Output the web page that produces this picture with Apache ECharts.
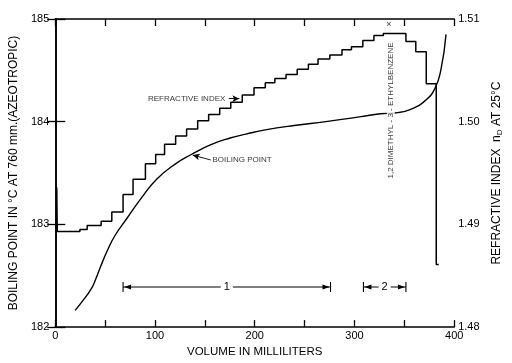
<!DOCTYPE html>
<html>
<head>
<meta charset="utf-8">
<script src="https://cdn.jsdelivr.net/npm/echarts@6/dist/echarts.min.js"></script>
<style>html,body{margin:0;padding:0;background:#fff}#c{width:512px;height:363px}</style>
</head>
<body>
<div id="c"></div>
<script>
// Boiling point curve (volume ml, °C)
var bpVol = [19.9, 26.3, 35.9, 40.7, 45.5, 51.9, 59.9, 71.6, 87.0, 101.9, 120.9, 136.8, 156.1, 175.3, 191.3, 210.6, 239.4, 271.4, 306.7, 326, 340.4, 358, 370.9, 380.5, 386.8, 391.8];
var bpVal = [182.163, 182.240, 182.370, 182.470, 182.590, 182.738, 182.892, 183.055, 183.266, 183.443, 183.592, 183.683, 183.777, 183.841, 183.879, 183.920, 183.963, 184.001, 184.049, 184.078, 184.085, 184.128, 184.205, 184.320, 184.512, 184.850];
// Refractive index of fractions (volume at start of fraction, nD 25°C)
var riVol = [1.5, 2.0, 24.7, 32, 46, 56.7, 68, 78, 90.4, 100.7, 109.6, 120.7, 131.7, 142.8, 153.8, 164.9, 176, 187.5, 199.3, 210.6, 220.2, 231.4, 242.6, 253.8, 263.5, 275.3, 287.5, 297, 308.4, 319.5, 329, 351.6, 361.5, 372, 382, 384.5];
var riVal = [1.4936, 1.4893, 1.4895, 1.4899, 1.4903, 1.4912, 1.4929, 1.4944, 1.4959, 1.4968, 1.4978, 1.4986, 1.4993, 1.5001, 1.5007, 1.5013, 1.5019, 1.5026, 1.5033, 1.5038, 1.5042, 1.5046, 1.5051, 1.5056, 1.5061, 1.5065, 1.5070, 1.5073, 1.5079, 1.5084, 1.5086, 1.5078, 1.5068, 1.5037, 1.4861, 1.4861];
// Fraction ranges
var rangeStart = [68, 309];
var rangeEnd = [276, 351.6];
var rangeLabel = ['1', '2'];
var rangeLevel = 182.39;
// x mark
var markVol = [334.6];
var markVal = [184.95];
// tick labels
var xTicks = [0, 100, 200, 300, 400];
var leftTicks = [182, 183, 184, 185];
var rightTicks = ['1.48', '1.49', '1.50', '1.51'];

var FONT = "'Liberation Sans', 'DejaVu Sans', sans-serif";
var chart = echarts.init(document.getElementById('c'), null, {renderer: 'canvas'});

var bpData = bpVol.map(function (v, i) { return [v, bpVal[i]]; });
var riData = riVol.map(function (v, i) { return [v, riVal[i]]; });
var rangeData = rangeStart.map(function (v, i) { return [v, rangeEnd[i], rangeLevel]; });

var axisLine = {show: true, lineStyle: {color: '#000', width: 1.6}};

chart.setOption({
  animation: false,
  backgroundColor: '#fff',
  grid: {left: 51, right: 45, top: 19, bottom: 31, containLabel: false},
  xAxis: [{
    type: 'value', min: 0, max: 400, interval: 50, position: 'bottom',
    axisLine: axisLine,
    axisTick: {show: true, inside: true, length: 7, lineStyle: {color: '#000', width: 1.3}},
    axisLabel: {color: '#000', fontFamily: FONT, fontSize: 11, margin: 3,
      formatter: function (v) { return xTicks.indexOf(v) >= 0 ? String(v) : ''; }},
    splitLine: {show: false},
    name: 'VOLUME IN MILLILITERS', nameLocation: 'middle', nameGap: 18,
    nameTextStyle: {color: '#000', fontFamily: FONT, fontSize: 11.5}
  }, {
    type: 'value', min: 0, max: 400, interval: 50, position: 'top',
    axisLine: axisLine,
    axisTick: {show: true, inside: true, length: 7, lineStyle: {color: '#000', width: 1.3}},
    axisLabel: {show: false}, splitLine: {show: false}
  }],
  yAxis: [{
    type: 'value', min: 182, max: 185, interval: 1, position: 'left',
    axisLine: axisLine,
    axisTick: {show: true, inside: true, length: 10, lineStyle: {color: '#000', width: 1.3}},
    axisLabel: {color: '#000', fontFamily: FONT, fontSize: 11, margin: 6,
      formatter: function (v) { return leftTicks.indexOf(v) >= 0 ? String(v) : ''; }},
    splitLine: {show: false},
    name: 'BOILING POINT IN °C AT 760 mm.(AZEOTROPIC)', nameLocation: 'middle', nameGap: 29,
    nameTextStyle: {color: '#000', fontFamily: FONT, fontSize: 12}
  }, {
    type: 'value', min: 1.48, max: 1.51, interval: 0.01, position: 'right',
    axisLine: axisLine,
    axisTick: {show: true, inside: true, length: 8, lineStyle: {color: '#000', width: 1.3}},
    axisLabel: {color: '#000', fontFamily: FONT, fontSize: 11, margin: 4,
      formatter: function (v) { var s = v.toFixed(2); return rightTicks.indexOf(s) >= 0 ? s : ''; }},
    splitLine: {show: false},
    name: '{a|REFRACTIVE INDEX  n}{s|D}{a| AT 25°C}', nameLocation: 'middle', nameGap: 32, nameRotate: 90,
    nameTextStyle: {color: '#000', rich: {
      a: {fontFamily: FONT, fontSize: 12, color: '#000', lineHeight: 15, verticalAlign: 'middle'},
      s: {fontFamily: FONT, fontSize: 8, color: '#000', lineHeight: 15, verticalAlign: 'bottom'}
    }}
  }],
  series: [{
    name: 'Boiling point', type: 'line', xAxisIndex: 0, yAxisIndex: 0,
    data: bpData, smooth: 0.5, showSymbol: false, symbol: 'none',
    lineStyle: {color: '#000', width: 1.4}, z: 3
  }, {
    name: 'Refractive index', type: 'line', xAxisIndex: 0, yAxisIndex: 1,
    data: riData, step: 'end', showSymbol: false, symbol: 'none',
    lineStyle: {color: '#000', width: 1.5}, z: 3
  }, {
    name: 'ranges', type: 'custom', xAxisIndex: 0, yAxisIndex: 0, z: 4,
    data: rangeData,
    renderItem: function (params, api) {
      var s = api.coord([api.value(0), api.value(2)]);
      var e = api.coord([api.value(1), api.value(2)]);
      var y = s[1];
      var mid = (s[0] + e[0]) / 2;
      var st = {stroke: '#000', lineWidth: 1.1};
      return {type: 'group', children: [
        {type: 'line', shape: {x1: s[0], y1: y, x2: e[0], y2: y}, style: st},
        {type: 'line', shape: {x1: s[0], y1: y - 5, x2: s[0], y2: y + 5}, style: st},
        {type: 'line', shape: {x1: e[0], y1: y - 5, x2: e[0], y2: y + 5}, style: st},
        {type: 'polygon', shape: {points: [[s[0] + 1, y], [s[0] + 8, y - 2.5], [s[0] + 8, y + 2.5]]}, style: {fill: '#000'}},
        {type: 'polygon', shape: {points: [[e[0] - 1, y], [e[0] - 8, y - 2.5], [e[0] - 8, y + 2.5]]}, style: {fill: '#000'}},
        {type: 'text', style: {text: rangeLabel[params.dataIndex], x: mid, y: y, align: 'center', verticalAlign: 'middle',
          fontFamily: FONT, fontSize: 11, fill: '#000', backgroundColor: '#fff', padding: [1, 3]}}
      ]};
    }
  }, {
    name: 'annotations', type: 'scatter', xAxisIndex: 0, yAxisIndex: 0, z: 5,
    symbolSize: 0, silent: true,
    data: [
      {value: [93, 184.224], label: {show: true, position: 'right', distance: 0, formatter: 'REFRACTIVE INDEX', fontFamily: FONT, fontSize: 8, color: '#000'}},
      {value: [157.7, 183.627], label: {show: true, position: 'right', distance: 0, formatter: 'BOILING POINT', fontFamily: FONT, fontSize: 8, color: '#000'}},
      {value: [336.5, 184.109], label: {show: true, position: 'inside', rotate: 90, formatter: '1,2 DIMETHYL - 3 - ETHYLBENZENE', fontFamily: FONT, fontSize: 8, color: '#000', backgroundColor: '#fff', padding: [0, 1]}},
      {value: [markVol[0], markVal[0]], label: {show: true, position: 'inside', formatter: '×', fontFamily: FONT, fontSize: 9, color: '#000'}}
    ],
    markLine: {
      silent: true, symbol: ['none', 'arrow'], symbolSize: [5, 7],
      label: {show: false},
      lineStyle: {color: '#000', width: 0.9, type: 'solid'},
      data: [
        [{coord: [174, 184.224]}, {coord: [184.6, 184.224]}],
        [{coord: [156, 183.627]}, {coord: [137.8, 183.675]}]
      ]
    }
  }]
});
</script>
</body>
</html>
